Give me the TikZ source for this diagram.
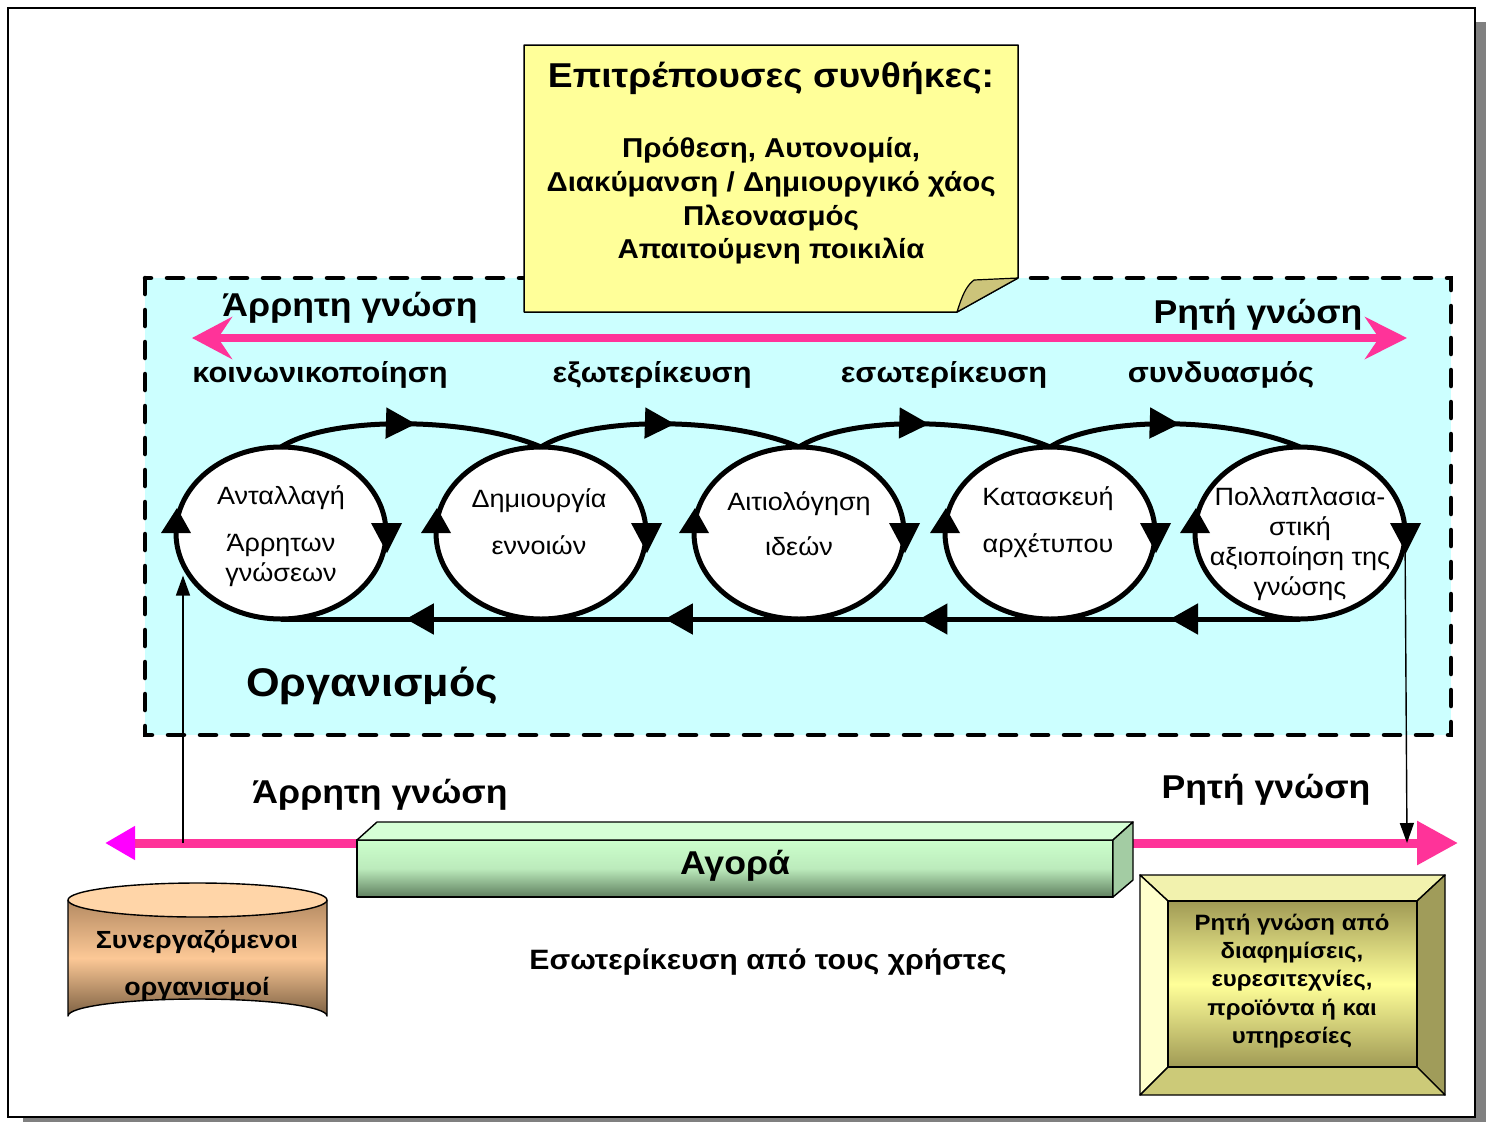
\documentclass[tikz,border=0pt]{standalone}
\usepackage{fontspec}
\setmainfont{Liberation Sans}[FakeStretch=1.08]
\usetikzlibrary{shapes.geometric,arrows.meta,decorations.markings,calc}

\definecolor{skyfill}{HTML}{CCFFFF}
\definecolor{notefill}{HTML}{FFFF99}
\definecolor{notefold}{HTML}{CCC47A}
\definecolor{flowpink}{HTML}{FF3399}
\definecolor{flowmag}{HTML}{FF00FF}
\definecolor{shadowgray}{HTML}{808080}
\definecolor{barlight}{HTML}{CCFFCC}
\definecolor{bartop}{HTML}{D6FFD6}
\definecolor{barside}{HTML}{A3CCA3}
\definecolor{bardark}{HTML}{5F7F5F}
\definecolor{cyltop}{HTML}{FFD5A8}
\definecolor{cylmid}{HTML}{FCC896}
\definecolor{cyldark}{HTML}{7C6042}
\definecolor{cylupper}{HTML}{B48A62}
\definecolor{bevtop}{HTML}{F2F2AE}
\definecolor{bevleft}{HTML}{FFFFCC}
\definecolor{bevright}{HTML}{A09C5A}
\definecolor{bevbottom}{HTML}{CCCA78}
\definecolor{bevinner}{HTML}{FFFF99}
\definecolor{bevolive}{HTML}{A09A55}

\begin{document}
\begin{tikzpicture}[x=1pt,y=-1pt,
  phase/.style={ellipse, draw, line width=5pt, fill=white,
    minimum width=210pt, minimum height=172pt, inner sep=0pt, outer sep=0pt},
  phasetext/.style={align=center, font=\fontsize{25}{30}\selectfont, inner sep=0pt},
  boldlabel/.style={font=\fontsize{28.5}{33}\selectfont\bfseries, inner sep=0pt},
  axislabel/.style={font=\fontsize{33}{38}\selectfont\bfseries, inner sep=0pt},
  cyclelink/.style={line width=5pt, postaction={decorate},
    decoration={markings, mark=at position 0.52 with
      {\arrow{Triangle[length=30pt,width=30pt]}}}},
  returnlink/.style={line width=5pt, postaction={decorate},
    decoration={markings, mark=at position 0.52 with
      {\arrow{Triangle[length=28pt,width=30pt]}}}},
  thinarrow/.style={line width=1.4pt, -{Triangle[length=20pt,width=14pt]}},
  edgeline/.style={draw=black, line width=1.4pt, line join=round}
]
\useasboundingbox (0,0) rectangle (1487,1122);

% page frame with drop shadow
\fill[shadowgray] (23,22) rectangle (1486,1122);
\draw[fill=white, line width=2pt] (8,8) rectangle (1475,1117);

% organisation area
\fill[skyfill] (145,278) rectangle (1451,735);
\draw[line width=4.5pt, line cap=round, dash pattern=on 16pt off 16pt]
  (145,278) rectangle (1451,735);

% sticky note with folded corner
\draw[fill=notefill, line width=1.5pt, line join=round]
  (524,45) -- (1018,45) -- (1018,278) -- (957,312) -- (524,312) -- cycle;
\draw[fill=notefold, line width=1.2pt, line join=round]
  (957,312) .. controls (962,296) and (966,286) .. (974,280) -- (1018,278) -- cycle;
\node[font=\fontsize{34.5}{40}\selectfont\bfseries, inner sep=0pt] (notetitle) at (771,78)
  {Επιτρέπουσες συνθήκες:};
\node[align=center, font=\fontsize{27.3}{33.7}\selectfont\bfseries, inner sep=0pt] (notebody) at (771,201)
  {Πρόθεση, Αυτονομία,\\Διακύμανση / Δημιουργικό χάος\\Πλεονασμός\\Απαιτούμενη ποικιλία};

% tacit / explicit axis inside the organisation
\coordinate (axL) at (192,338);
\coordinate (axR) at (1407,338);
\draw[flowpink, line width=8pt,
  {Stealth[length=40pt,width=42pt,inset=14pt]}-{Stealth[length=42pt,width=42pt,inset=14pt]}]
  (axL) -- (axR);
\node[axislabel] (tacitA) at (350,308) {Άρρητη γνώση};
\node[axislabel] (explA) at (1258,315) {Ρητή γνώση};

% SECI labels
\node[boldlabel] (seci1) at (320,375) {κοινωνικοποίηση};
\node[boldlabel] (seci2) at (652,375) {εξωτερίκευση};
\node[boldlabel] (seci3) at (944,375) {εσωτερίκευση};
\node[boldlabel] (seci4) at (1221,375) {συνδυασμός};

% knowledge creation phases
\node[phase] (e1) at (281,533) {};
\node[phase] (e2) at (541,533) {};
\node[phase] (e3) at (799,533) {};
\node[phase] (e4) at (1050,533) {};
\node[phase] (e5) at (1300,533) {};

\node[phasetext] (t1) at ($(e1)+(0,3)$) {Ανταλλαγή\\[17pt]Άρρητων\\γνώσεων};
\node[phasetext] (t2) at ($(e2)+(-2,-11)$) {Δημιουργία\\[17pt]εννοιών};
\node[phasetext] (t3) at ($(e3)+(0,-9)$) {Αιτιολόγηση\\[15pt]ιδεών};
\node[phasetext] (t4) at ($(e4)+(-2,-11)$) {Κατασκευή\\[17pt]αρχέτυπου};
\node[phasetext] (t5) at ($(e5)+(0,11)$) {Πολλαπλασια-\\στική\\αξιοποίηση της\\γνώσης};

% forward links across the tops
\foreach \a/\b in {e1/e2, e2/e3, e3/e4, e4/e5}
  \draw[cyclelink] (\a.north) .. controls +(50,-32) and +(-70,-30) .. (\b.north);

% return line along the bottoms
\foreach \a/\b in {e2/e1, e3/e2, e4/e3, e5/e4}
  \draw[returnlink] (\a.south) -- (\b.south);

% circulation arrowheads on each phase
\foreach \e in {e1,e2,e3,e4,e5} {
  \fill (\e.west) ++(-15,0) -- ++(30,0) -- ++(-14,-25) -- cycle;
  \fill (\e.east) ++(-15,-10) -- ++(31,0) -- ++(-15,30) -- cycle;
}

\node[font=\fontsize{40}{48}\selectfont\bfseries, inner sep=0pt] (org) at (372,686) {Οργανισμός};

% market axis
\coordinate (mkL) at (105,843);
\coordinate (mkR) at (1458,843);
\draw[flowpink, line width=9pt,
  {Triangle[length=30pt,width=32pt,color=flowmag]}-{Triangle[length=41pt,width=42pt]}]
  (mkL) -- (mkR);
\node[axislabel] (tacitB) at (380,795) {Άρρητη γνώση};
\node[axislabel] (explB) at (1266,790) {Ρητή γνώση};

% market bar (3D)
\fill[top color=barlight, bottom color=bardark, middle color=barlight!92!black]
  (357,840) rectangle (1113,897);
\draw[edgeline] (357,840) rectangle (1113,897);
\draw[edgeline, fill=bartop] (357,840) -- (377,822) -- (1133,822) -- (1113,840) -- cycle;
\draw[edgeline, fill=barside] (1113,840) -- (1133,822) -- (1133,880) -- (1113,897) -- cycle;
\node[font=\fontsize{33}{38}\selectfont\bfseries, inner sep=0pt] (market) at (735,866) {Αγορά};

% partner organisations (cylinder)
\path[top color=cylupper, bottom color=cyldark, middle color=cylmid]
  (68,900) -- (68,1016) arc[start angle=180, end angle=360, x radius=129.5, y radius=17]
  -- (327,900) arc[start angle=0, end angle=180, x radius=129.5, y radius=17] -- cycle;
\draw[edgeline]
  (68,900) -- (68,1016) arc[start angle=180, end angle=360, x radius=129.5, y radius=17]
  -- (327,900);
\draw[edgeline, fill=cyltop] (197.5,900) ellipse[x radius=129.5, y radius=17];
\node[align=center, font=\fontsize{24.8}{47}\selectfont\bfseries, inner sep=0pt] (coop) at (197,965)
  {Συνεργαζόμενοι\\οργανισμοί};

\node[font=\fontsize{28}{33}\selectfont\bfseries, inner sep=0pt] (users) at (768,962)
  {Εσωτερίκευση από τους χρήστες};

% explicit knowledge box (bevelled)
\draw[edgeline, fill=bevtop] (1140,875) -- (1445,875) -- (1417,901) -- (1168,901) -- cycle;
\draw[edgeline, fill=bevleft] (1140,875) -- (1168,901) -- (1168,1067) -- (1140,1095) -- cycle;
\draw[edgeline, fill=bevright] (1445,875) -- (1445,1095) -- (1417,1067) -- (1417,901) -- cycle;
\draw[edgeline, fill=bevbottom] (1140,1095) -- (1445,1095) -- (1417,1067) -- (1168,1067) -- cycle;
\fill[top color=bevolive, bottom color=bevolive, middle color=bevinner] (1168,901) rectangle (1417,1067);
\draw[edgeline] (1168,901) rectangle (1417,1067);
\node[align=center, font=\fontsize{22.2}{28.2}\selectfont\bfseries, inner sep=0pt] (explicitbox) at (1292,981)
  {Ρητή γνώση από\\διαφημίσεις,\\ευρεσιτεχνίες,\\προϊόντα ή και\\υπηρεσίες};

% links between market and organisation
\coordinate (upfoot) at (183,843);
\coordinate (downfoot) at (1407,843);
\draw[thinarrow] (upfoot) -- (upfoot |- e1.205);
\draw[thinarrow] (e5.east) -- (downfoot);
\end{tikzpicture}
\end{document}
